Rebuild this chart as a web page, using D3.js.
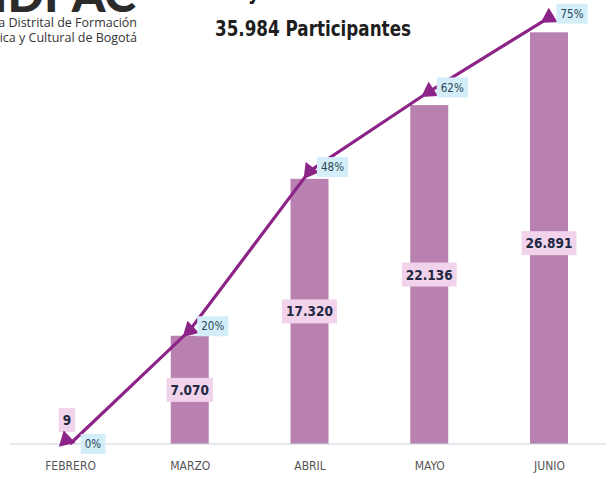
<!DOCTYPE html>
<html>
<head>
<meta charset="utf-8">
<script src="https://cdn.jsdelivr.net/npm/d3@7"></script>
<style>
  html, body { margin: 0; padding: 0; background: #ffffff; }
  svg { display: block; }
</style>
</head>
<body>
<svg id="chart" width="616" height="479"></svg>
<script>
// Monthly participants (bars) and cumulative share of the 35.984 total (line)
const meses = ["FEBRERO", "MARZO", "ABRIL", "MAYO", "JUNIO"];
const participantes = [9, 7070, 17320, 22136, 26891];
const porcentajes = [0, 20, 48, 62, 75];
const etiquetasParticipantes = ["9", "7.070", "17.320", "22.136", "26.891"];
const etiquetasPorcentaje = ["0%", "20%", "48%", "62%", "75%"];

const condensed = "'DejaVu Sans Condensed', 'Liberation Sans Narrow', sans-serif";

const svg = d3.select("#chart");
const baseY = 444;

const x = d3.scalePoint().domain(meses).range([70, 549]);
const yBar = d3.scaleLinear().domain([0, 29000]).range([baseY, 0]);
const yPct = d3.scaleLinear().domain([0, 78.1]).range([baseY, 0]);

// Header: institution mark and title
svg.append("text")
  .attr("x", 136).attr("y", 12)
  .attr("text-anchor", "end")
  .attr("font-family", "Lato, 'Open Sans', sans-serif")
  .attr("font-weight", 900)
  .attr("font-size", 48)
  .attr("fill", "#2b2b2b")
  .text("IDPAC");
svg.append("text")
  .attr("x", 137).attr("y", 27)
  .attr("text-anchor", "end")
  .attr("font-family", "'Open Sans', 'Noto Sans', sans-serif")
  .attr("font-size", 12.5)
  .attr("fill", "#333")
  .text("Escuela Distrital de Formación");
svg.append("text")
  .attr("x", 137).attr("y", 42)
  .attr("text-anchor", "end")
  .attr("font-family", "'Open Sans', 'Noto Sans', sans-serif")
  .attr("font-size", 12.5)
  .attr("fill", "#333")
  .text("Artística y Cultural de Bogotá");

svg.append("text")
  .attr("x", 268).attr("y", -1)
  .attr("text-anchor", "middle")
  .attr("font-family", condensed)
  .attr("font-weight", 700)
  .attr("font-size", 23)
  .attr("textLength", 195)
  .attr("lengthAdjust", "spacingAndGlyphs")
  .attr("fill", "#1e1e1e")
  .text("Avance y Cobertura");
svg.append("text")
  .attr("x", 313).attr("y", 36)
  .attr("text-anchor", "middle")
  .attr("font-family", condensed)
  .attr("font-weight", 700)
  .attr("font-size", 22)
  .attr("textLength", 196)
  .attr("lengthAdjust", "spacingAndGlyphs")
  .attr("fill", "#1e1e1e")
  .text("35.984 Participantes");

// Bars
const barW = 38;
svg.append("g").selectAll("rect")
  .data(participantes)
  .join("rect")
  .attr("x", (d, i) => x(meses[i]) - barW / 2)
  .attr("y", d => yBar(d))
  .attr("width", barW)
  .attr("height", d => baseY - yBar(d))
  .attr("fill", "#b981b0");

// X axis
const axis = svg.append("g")
  .attr("transform", `translate(0,${baseY})`)
  .call(d3.axisBottom(x).tickSize(0).tickPadding(17));
axis.select(".domain").remove();
axis.append("line")
  .attr("x1", 10).attr("x2", 606)
  .attr("y1", 0).attr("y2", 0)
  .attr("stroke", "#c8d3de").attr("stroke-width", 1.2);
axis.selectAll(".tick text")
  .attr("font-family", condensed)
  .attr("font-size", 12)
  .attr("fill", "#555");

// Value labels on bars
const valG = svg.append("g");
participantes.forEach((v, i) => {
  const cx = i === 0 ? x(meses[i]) - 3 : x(meses[i]);
  const cy = i === 0 ? 420 : (yBar(v) + baseY) / 2 + (i === 4 ? 5 : 0);
  const t = valG.append("text")
    .attr("x", cx).attr("y", cy)
    .attr("text-anchor", "middle")
    .attr("dominant-baseline", "central")
    .attr("font-family", condensed)
    .attr("font-weight", 700)
    .attr("font-size", 13.5)
    .attr("fill", "#222842")
    .text(etiquetasParticipantes[i]);
  const bb = t.node().getBBox();
  valG.insert("rect", () => t.node())
    .attr("x", bb.x - 4).attr("y", cy - 12)
    .attr("width", bb.width + 8).attr("height", 24)
    .attr("fill", "#f1d3ec");
});

// Cumulative share line
const pts = porcentajes.map((p, i) => [x(meses[i]), yPct(p)]);
svg.append("path")
  .datum(pts)
  .attr("d", d3.line())
  .attr("fill", "none")
  .attr("stroke", "#8c2386")
  .attr("stroke-width", 3.2);

// Arrowhead markers pointing back along the line
const tri = d3.symbol().type(d3.symbolTriangle).size(125);
svg.append("g").selectAll("path")
  .data(pts)
  .join("path")
  .attr("d", tri)
  .attr("fill", "#8c2386")
  .attr("transform", (d, i) => {
    const a = i === 0 ? pts[1] : pts[i - 1];
    let dx = a[0] - d[0], dy = a[1] - d[1];
    if (i === 0) { dx = -dx; dy = -dy; }
    const ang = Math.atan2(dx, -dy) * 180 / Math.PI;
    const ox = i === 0 ? -4 : 0, oy = i === 0 ? -4 : 0;
    return `translate(${d[0] + ox},${d[1] + oy}) rotate(${ang})`;
  });

// Percentage labels
const pctG = svg.append("g");
pts.forEach((d, i) => {
  const cx = d[0] + 23;
  const cy = i === 0 ? d[1] : d[1] - 4;
  const t = pctG.append("text")
    .attr("x", cx).attr("y", cy)
    .attr("text-anchor", "middle")
    .attr("dominant-baseline", "central")
    .attr("font-family", condensed)
    .attr("font-size", 11.5)
    .attr("fill", "#2a4656")
    .text(etiquetasPorcentaje[i]);
  const bb = t.node().getBBox();
  pctG.insert("rect", () => t.node())
    .attr("x", bb.x - 4).attr("y", cy - 10)
    .attr("width", bb.width + 8).attr("height", 20)
    .attr("fill", "#d3eef8");
});
</script>
</body>
</html>
